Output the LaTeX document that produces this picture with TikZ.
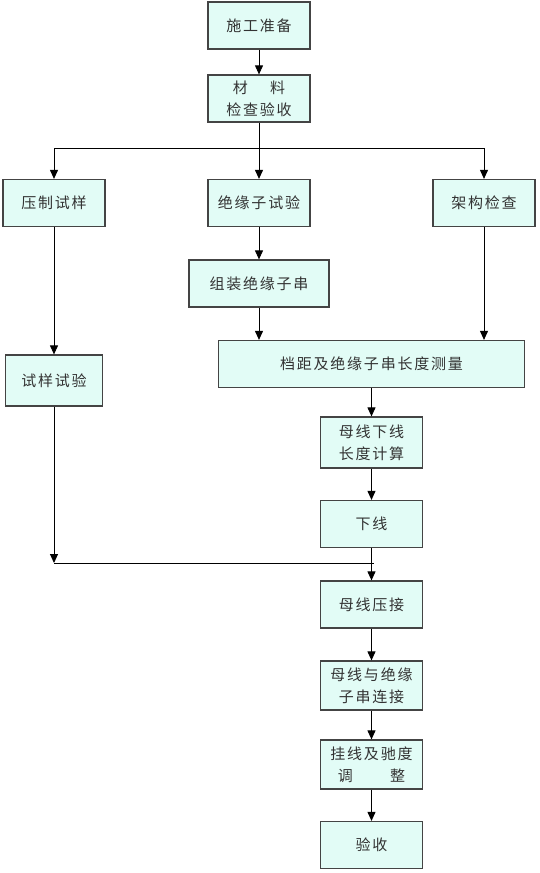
\documentclass[tikz,border=0pt]{standalone}
\usepackage{fontspec}
\usepackage{xcolor}
\usepackage{tikz}
\usetikzlibrary{arrows.meta, positioning}
\newfontfamily\cjk[LetterSpace=12]{Noto Sans CJK SC}
\definecolor{boxfill}{HTML}{E2FCF6}
\definecolor{edge}{HTML}{444444}
\definecolor{ink}{HTML}{333333}

\begin{document}
\begin{tikzpicture}[x=1pt, y=-1pt,
  box/.style={draw=edge, line width=1.2pt, fill=boxfill, align=center, text=ink,
              font=\cjk\fontsize{15}{22}\selectfont, inner sep=2pt,
              minimum width=102pt, minimum height=47pt},
  arr/.style={-{Triangle[length=9pt, width=8pt]}, line width=0.9pt},
  line/.style={line width=0.9pt},
]
\useasboundingbox (0,0) rectangle (539,873);
\node[box] (prep) at (259,25.5) {施工准备};
\node[box] (mat) at (259,98.5) {材\hspace{1.5em}料\\检查验收};
\node[box] (press) at (54,203) {压制试样};
\node[box] (insu) at (259,203) {绝缘子试验};
\node[box] (frame) at (484,203) {架构检查};
\node[box, minimum width=140pt] (assy) at (259,283.5) {组装绝缘子串};
\node[box, minimum width=97pt, minimum height=51pt] (samp) at (54,380.5) {试样试验};
\node[box, minimum width=306pt] (span) at (371.5,364) {档距及绝缘子串长度测量};
\node[box, minimum height=51pt] (calc) at (371.5,442.5) {母线下线\\长度计算};
\node[box] (cut) at (371.5,524) {下线};
\node[box] (crimp) at (371.5,604.5) {母线压接};
\node[box, minimum height=49pt] (conn) at (371.5,685.5) {母线与绝缘\\子串连接};
\node[box, minimum height=49pt] (hang) at (371.5,764.5) {挂线及驰度\\调\hspace{2.5em}整};
\node[box] (acc) at (371.5,845) {验收};
\coordinate (split) at (259,148);
\coordinate (join) at (54,563);
\coordinate (joinend) at (374,563);
% top part
\draw[arr] (prep) -- (mat);
\draw[arr] (mat) -- (insu);
\draw[arr] (split) -| (press);
\draw[arr] (split) -| (frame);
\draw[arr] (insu) -- (assy);
\draw[arr] (assy) -- (assy |- span.north);
\draw[arr] (frame) -- (frame |- span.north);
% left branch
\draw[arr] (press) -- (samp);
\draw[arr] (samp) -- (join);
\draw[line] (join) -- (joinend);
% main column
\draw[arr] (span) -- (calc);
\draw[arr] (calc) -- (cut);
\draw[arr] (cut) -- (crimp);
\draw[arr] (crimp) -- (conn);
\draw[arr] (conn) -- (hang);
\draw[arr] (hang) -- (acc);
\end{tikzpicture}
\end{document}
